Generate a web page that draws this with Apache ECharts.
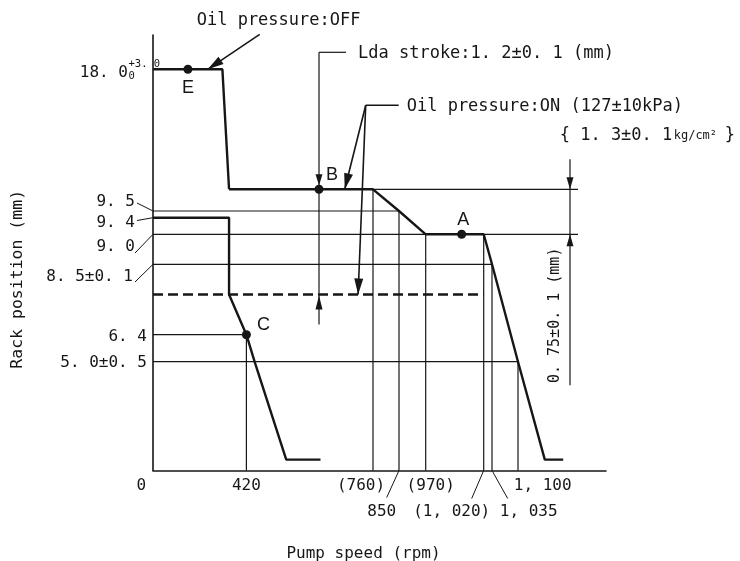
<!DOCTYPE html>
<html>
<head>
<meta charset="utf-8">
<script src="https://cdn.jsdelivr.net/npm/echarts@6/dist/echarts.min.js"></script>
<style>
  html, body { margin: 0; padding: 0; background: #ffffff; }
  #chart { width: 740px; height: 561px; }
</style>
</head>
<body>
<div id="chart"></div>
<script>
// ---- Labelled values ----
const speedTicks = [0, 420, 760, 850, 970, 1020, 1035, 1100];
const speedTickLabels = ['0', '420', '(760)', '850', '(970)', '(1, 020)', '1, 035', '1, 100'];
const rackTicks = [18.0, 9.5, 9.4, 9.0, 8.5, 6.4, 5.0];
const rackTickLabels = ['18. 0', '9. 5', '9. 4', '9. 0', '8. 5±0. 1', '6. 4', '5. 0±0. 5'];

// ---- Curves (pump speed rpm / rack position mm) ----
// Oil pressure OFF: starting rack (E) then drop to the full-load plateau
const offSpeed = [0, 312, 342];
const offRack = [18.0, 18.0, 9.75];
// Full-load curve with oil pressure ON, then governor run-out
const fullSpeed = [342, 760, 850, 970, 1020, 1035, 1100, 1167, 1213];
const fullRack = [9.75, 9.75, 9.5, 9.0, 9.0, 8.5, 5.0, 0.5, 0.5];
// Low-speed curve starting at 9.4 mm, running out through C
const idleSpeed = [0, 342, 342, 420, 442, 527, 619];
const idleRack = [9.4, 9.4, 7.6, 6.4, 5.0, 0.5, 0.5];
// Rack position below the Lda stroke (dashed)
const lowSpeed = [0, 1020];
const lowRack = [7.6, 7.6];

// ---- Measuring points ----
const pointNames = ['E', 'B', 'A', 'C'];
const pointSpeed = [157, 615, 1001, 420];
const pointRack = [18.0, 9.75, 9.0, 6.4];

// ---- Guide lines ----
// horizontal: rack level drawn from the rack axis out to a speed
const levelRack = [9.5, 8.5, 6.4, 5.0];
const levelSpeed = [850, 1035, 420, 1100];
// vertical: speed dropped from a rack level down to the speed axis
const dropSpeed = [420, 760, 850, 970, 1020, 1035, 1100];
const dropRack = [6.4, 9.75, 9.5, 9.0, 9.0, 8.5, 5.0];
// where the oil-pressure-ON leaders land
const onArrowSpeed = [684, 720];
const onArrowRack = [9.75, 7.6];
// oil-pressure-OFF leader lands on the starting plateau
const offArrowSpeed = 246;
const offArrowRack = 18.0;

// The diagram is schematic: labelled values are spaced for legibility,
// so each axis maps its values to drawing units through breakpoints.
const speedScale = {
  at:  [0, 420, 760, 850, 970, 1020, 1035, 1100, 1320],
  pos: [0, 93.4, 220, 246, 272.7, 330.7, 339, 365, 453]
};
const rackScale = {
  at:  [0, 5.0, 6.4, 8.5, 9.0, 9.4, 9.5, 9.75, 18.0, 20.4],
  pos: [0, 108.8, 135.8, 206.2, 236.2, 252.8, 259.5, 281.2, 401.2, 435.5]
};
function interp(scale, v) {
  const a = scale.at, p = scale.pos;
  let i = 1;
  while (i < a.length - 1 && v > a[i]) i++;
  const t = (v - a[i - 1]) / (a[i] - a[i - 1]);
  return p[i - 1] + t * (p[i] - p[i - 1]);
}
const sx = v => interp(speedScale, v);
const sy = v => interp(rackScale, v);
const toAxis = (speeds, racks) => speeds.map((s, i) => [sx(s), sy(racks[i])]);

const INK = '#161616';
const MONO = '"DejaVu Sans Mono", "Liberation Mono", monospace';

// label placement: shift from the tick, row under the axis, optional leader
const speedLabelPlace = [
  { row: 0, dx: -11.6 },
  { row: 0, dx: 0 },
  { row: 0, dx: -12 },
  { row: 1, dx: -17.3, lead: [-12.3, 27] },
  { row: 0, dx: 5 },
  { row: 1, dx: -32, lead: [-12, 28] },
  { row: 1, dx: 36.7, lead: [15.7, 28] },
  { row: 0, dx: 24.7 }
];
const rackLabelPlace = [
  { dx: -25, dy: 3.2 },
  { dx: -18, dy: -9.3, lead: [-16, -8] },
  { dx: -18, dy: 5.3, lead: [-16, 2.8] },
  { dx: -18, dy: 12.4, lead: [-18, 18.7] },
  { dx: -20, dy: 12.7, lead: [-18, 17.7] },
  { dx: -6, dy: 2.3 },
  { dx: -6, dy: 1.3 }
];
const pointLabelOffset = [[0, 19], [13, -14], [1.6, -14], [17, -10]];

function drawNotes(params, api) {
  const at = (s, r) => api.coord([sx(s), sy(r)]);
  const kids = [];
  const line = (x1, y1, x2, y2, w) => kids.push({
    type: 'line', shape: { x1, y1, x2, y2 },
    style: { stroke: INK, lineWidth: w || 1.2 }
  });
  const head = (tx, ty, fx, fy, len, half) => {
    const dx = tx - fx, dy = ty - fy, d = Math.hypot(dx, dy);
    const ux = dx / d, uy = dy / d;
    const bx = tx - ux * len, by = ty - uy * len;
    kids.push({
      type: 'polygon',
      shape: { points: [[tx, ty], [bx - uy * half, by + ux * half], [bx + uy * half, by - ux * half]] },
      style: { fill: INK }
    });
  };
  const arrow = (fx, fy, tx, ty) => { line(fx, fy, tx, ty, 1.6); head(tx, ty, fx, fy, 16, 4.5); };
  const text = (str, x, y, o) => {
    o = o || {};
    kids.push({
      type: 'text', x, y, rotation: o.rot || 0,
      style: {
        text: str, font: (o.size || 16) + 'px ' + (o.family || MONO), fill: INK,
        align: o.align || 'left', verticalAlign: 'middle'
      }
    });
  };

  const origin = at(0, 0);
  const dimX = at(1100, 0)[0] + 52;

  // guide lines
  levelRack.forEach((r, i) => { const p = at(levelSpeed[i], r); line(origin[0], p[1], p[0], p[1]); });
  const a9 = at(0, 9.0), b975 = at(760, 9.75);
  line(origin[0], a9[1], dimX + 8, a9[1]);
  line(b975[0], b975[1], dimX + 8, b975[1]);
  dropSpeed.forEach((s, i) => { const p = at(s, dropRack[i]); line(p[0], p[1], p[0], origin[1]); });

  // speed tick labels
  speedTicks.forEach((s, i) => {
    const pl = speedLabelPlace[i];
    const p = at(s, 0);
    text(speedTickLabels[i], p[0] + pl.dx, origin[1] + (pl.row ? 41.5 : 15.5), { align: 'center', size: 16 });
    if (pl.lead) line(p[0], origin[1], p[0] + pl.lead[0], origin[1] + pl.lead[1], 1);
  });
  // rack tick labels
  rackTicks.forEach((r, i) => {
    const pl = rackLabelPlace[i];
    const p = at(0, r);
    text(rackTickLabels[i], p[0] + pl.dx, p[1] + pl.dy, { align: 'right', size: 16 });
    if (pl.lead) line(p[0] + pl.lead[0], p[1] + pl.lead[1], p[0], p[1], 1);
  });
  const top = at(0, 18.0);
  text('+3. 0', top[0] - 24.5, top[1] - 5, { size: 10.5 });
  text('0', top[0] - 24.5, top[1] + 6.5, { size: 10.5 });

  // axis titles
  text('Rack position (mm)', 18, at(0, 8.5)[1] + 15, { align: 'center', rot: Math.PI / 2, size: 16.5 });
  text('Pump speed (rpm)', origin[0] + 210.5, origin[1] + 83, { align: 'center', size: 16 });

  // oil pressure OFF
  const off = at(offArrowSpeed, offArrowRack);
  arrow(off[0] + 52, off[1] - 35, off[0], off[1]);
  text('Oil pressure:OFF', off[0] - 11, off[1] - 49, { size: 17 });

  // Lda stroke dimension between B and the dashed level
  const B = at(pointSpeed[1], pointRack[1]);
  const D = at(pointSpeed[1], lowRack[0]);
  const ldaTop = B[1] - 137;
  line(B[0], ldaTop, B[0], D[1] + 30);
  line(B[0], ldaTop, B[0] + 27, ldaTop);
  head(B[0], B[1] - 4, B[0], B[1] - 30, 11, 3.5);
  head(D[0], D[1] + 1, D[0], D[1] + 30, 14, 3.5);
  text('Lda stroke:1. 2±0. 1 (mm)', B[0] + 39, ldaTop + 1, { size: 17 });

  // oil pressure ON
  const t1 = at(onArrowSpeed[0], onArrowRack[0]);
  const t2 = at(onArrowSpeed[1], onArrowRack[1]);
  const J = [t1[0] + 21, t1[1] - 84];
  arrow(J[0], J[1], t1[0], t1[1]);
  arrow(J[0], J[1], t2[0], t2[1]);
  line(J[0], J[1], J[0] + 33, J[1], 1.6);
  text('Oil pressure:ON (127±10kPa)', J[0] + 41, J[1] + 1, { size: 17 });
  text('{ 1. 3±0. 1', J[0] + 194, J[1] + 30, { size: 17 });
  text('kg/cm²', J[0] + 308, J[1] + 31, { size: 12 });
  text('}', J[0] + 359, J[1] + 30, { size: 17 });

  // 0.75 mm dimension between the B and A levels
  const a975 = at(1100, 9.75), a90 = at(1100, 9.0);
  line(dimX, a975[1] - 30, dimX, a90[1] + 151);
  head(dimX, a975[1], dimX, a975[1] - 30, 12, 3.5);
  head(dimX, a90[1], dimX, a90[1] + 30, 12, 3.5);
  text('0. 75±0. 1 (mm)', dimX - 15, a90[1] + 81, { align: 'center', rot: Math.PI / 2, size: 15 });

  return { type: 'group', children: kids };
}

const chart = echarts.init(document.getElementById('chart'), null, { renderer: 'canvas' });

const curveStyle = { color: INK, width: 2.4 };
chart.setOption({
  animation: false,
  backgroundColor: '#ffffff',
  grid: { left: 153, top: 35, width: 453, height: 435.5 },
  xAxis: {
    type: 'value', min: 0, max: 453,
    axisLine: { show: true, onZero: false, lineStyle: { color: INK, width: 1.6 } },
    axisTick: { show: false }, axisLabel: { show: false }, splitLine: { show: false }
  },
  yAxis: {
    type: 'value', min: 0, max: 435.5,
    axisLine: { show: true, onZero: false, lineStyle: { color: INK, width: 1.6 } },
    axisTick: { show: false }, axisLabel: { show: false }, splitLine: { show: false }
  },
  series: [
    {
      type: 'custom', name: 'notes', renderItem: drawNotes, data: [[0, 0]],
      clip: false, silent: true, z: 2
    },
    {
      type: 'line', name: 'Oil pressure OFF', data: toAxis(offSpeed, offRack),
      symbol: 'none', lineStyle: curveStyle, z: 4, silent: true
    },
    {
      type: 'line', name: 'Full load', data: toAxis(fullSpeed, fullRack),
      symbol: 'none', lineStyle: curveStyle, z: 4, silent: true
    },
    {
      type: 'line', name: 'Low speed', data: toAxis(idleSpeed, idleRack),
      symbol: 'none', lineStyle: curveStyle, z: 4, silent: true
    },
    {
      type: 'line', name: 'Lda level', data: toAxis(lowSpeed, lowRack),
      symbol: 'none', lineStyle: { color: INK, width: 2.4, type: [10, 5] }, z: 4, silent: true
    },
    {
      type: 'scatter', name: 'points', symbolSize: 9, z: 5, silent: true,
      itemStyle: { color: INK, opacity: 1 },
      label: {
        show: true, position: 'inside', formatter: '{b}', color: INK, opacity: 1,
        fontFamily: '"Liberation Sans", Arial, sans-serif', fontSize: 18
      },
      data: pointNames.map((n, i) => ({
        name: n,
        value: [sx(pointSpeed[i]), sy(pointRack[i])],
        label: { offset: pointLabelOffset[i] }
      }))
    }
  ]
});
</script>
</body>
</html>
